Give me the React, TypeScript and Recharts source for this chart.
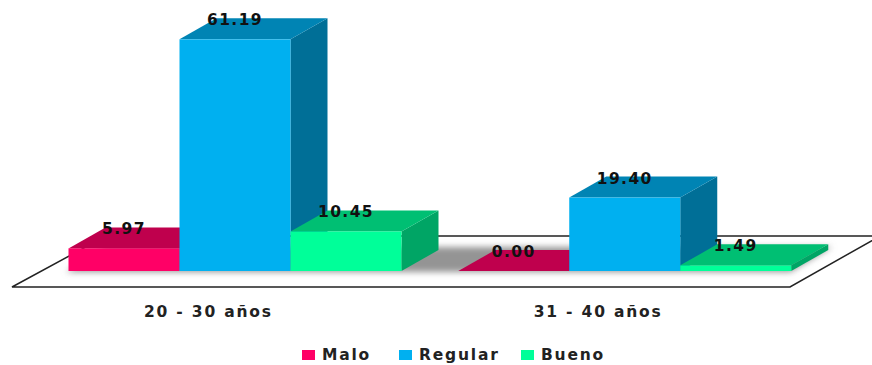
import React from "react";
import { BarChart, Bar, XAxis, YAxis, Legend, LabelList } from "recharts";

const categories = ["20 - 30 años", "31 - 40 años"];
const malo = [5.97, 0.0];
const regular = [61.19, 19.4];
const bueno = [10.45, 1.49];

const table = categories.map((name, i) => ({
  name,
  Malo: malo[i],
  Regular: regular[i],
  Bueno: bueno[i],
}));

const FONT = "'DejaVu Sans', Verdana, sans-serif";
const DEPTH_X = 37;
const DEPTH_Y = 21;

// front, top and side colours of each extruded series
const PINK = { front: "#FF0066", top: "#BF004D", side: "#A60043" };
const BLUE = { front: "#00B0F0", top: "#0084B4", side: "#006F97" };
const GREEN = { front: "#00FF99", top: "#00BF73", side: "#00A565" };

// legend entries are not evenly wide, so each gets its own slot
const LEGEND_SLOTS: Record<string, number> = { Malo: 97, Regular: 122, Bueno: 90 };

function Box3D({ x, y, width, height, colors }: any) {
  const r = x + width;
  const b = y + height;
  return (
    <g>
      <polygon
        points={`${r},${y} ${r + DEPTH_X},${y - DEPTH_Y} ${r + DEPTH_X},${b - DEPTH_Y} ${r},${b}`}
        fill={colors.side}
      />
      <polygon
        points={`${x},${y} ${x + DEPTH_X},${y - DEPTH_Y} ${r + DEPTH_X},${y - DEPTH_Y} ${r},${y}`}
        fill={colors.top}
      />
      <rect x={x} y={y} width={width} height={height} fill={colors.front} />
    </g>
  );
}

function ValueLabel({ x, y, width, value }: any) {
  return (
    <text
      x={x + width / 2}
      y={y - 19}
      textAnchor="middle"
      dominantBaseline="central"
      fontFamily={FONT}
      fontWeight={700}
      fontSize={15.5}
      letterSpacing={1.4}
      fill="#111"
    >
      {Number(value).toFixed(2)}
    </text>
  );
}

// the tilted floor plate with the soft shadow under the boxes
function Floor() {
  return (
    <g>
      <defs>
        <filter id="floorShadow" x="-5%" y="-50%" width="110%" height="200%">
          <feGaussianBlur stdDeviation="3" />
        </filter>
      </defs>
      <polygon
        points="12,287 790,287 880,236 106,236"
        fill="#fff"
        stroke="#222"
        strokeWidth={1.5}
      />
      <polygon
        points="66,272 790,272 832,247 106,247"
        fill="#949494"
        filter="url(#floorShadow)"
      />
    </g>
  );
}

function LegendRow({ payload }: any) {
  return (
    <div
      style={{
        display: "flex",
        marginLeft: 302,
        height: 20,
        alignItems: "center",
        fontFamily: FONT,
        fontWeight: 700,
        fontSize: 15.5,
        letterSpacing: 1.8,
        color: "#222",
      }}
    >
      {(payload || []).map((entry: any) => (
        <span
          key={entry.value}
          style={{ display: "flex", alignItems: "center", width: LEGEND_SLOTS[entry.value] }}
        >
          <span
            style={{
              width: 13,
              height: 10,
              marginRight: 7,
              background: entry.color,
            }}
          />
          {entry.value}
        </span>
      ))}
    </div>
  );
}

// category names sit left of the bar groups, under the front edge of the floor
function CategoryTick({ x, y, payload }: any) {
  return (
    <text
      x={x - 27}
      y={y}
      textAnchor="middle"
      dominantBaseline="central"
      fontFamily={FONT}
      fontWeight={700}
      fontSize={15.5}
      letterSpacing={1.8}
      fill="#222"
    >
      {payload.value}
    </text>
  );
}

export default function App() {
  return (
    <div style={{ position: "absolute", left: 0, top: 0, width: 872, height: 365 }}>
      <BarChart
        width={872}
        height={365}
        data={table}
        barSize={111}
        barGap={0}
        margin={{ top: 6, right: 52, bottom: 0, left: 40.5 }}
      >
        <Floor />
        <XAxis
          dataKey="name"
          height={74}
          axisLine={false}
          tickLine={false}
          tick={<CategoryTick />}
          tickMargin={35}
        />
        <YAxis hide domain={[0, 70]} />
        <Legend
          verticalAlign="bottom"
          itemSorter={null}
          wrapperStyle={{ left: 0, width: 872 }}
          content={<LegendRow />}
        />
        <Bar
          dataKey="Malo"
          fill={PINK.front}
          isAnimationActive={false}
          shape={(p: any) => <Box3D {...p} colors={PINK} />}
        >
          <LabelList dataKey="Malo" content={<ValueLabel />} />
        </Bar>
        <Bar
          dataKey="Regular"
          fill={BLUE.front}
          isAnimationActive={false}
          shape={(p: any) => <Box3D {...p} colors={BLUE} />}
        >
          <LabelList dataKey="Regular" content={<ValueLabel />} />
        </Bar>
        <Bar
          dataKey="Bueno"
          fill={GREEN.front}
          isAnimationActive={false}
          shape={(p: any) => <Box3D {...p} colors={GREEN} />}
        >
          <LabelList dataKey="Bueno" content={<ValueLabel />} />
        </Bar>
      </BarChart>
    </div>
  );
}
